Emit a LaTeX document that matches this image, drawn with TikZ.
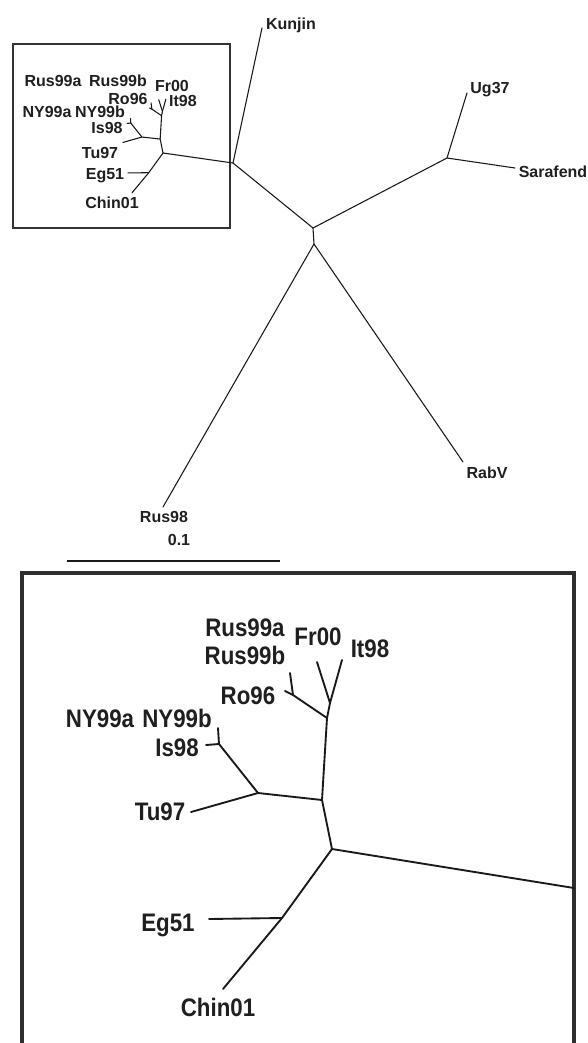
\documentclass[tikz,border=0pt]{standalone}
\usepackage{fontspec}
\setmainfont{Liberation Sans}
\newfontfamily\smfont{Liberation Sans}
\newfontfamily\bgfont[FakeStretch=0.88]{Liberation Sans}
\tikzset{
  smlab/.style={font=\smfont\bfseries\fontsize{12}{14}\selectfont, inner sep=0pt, anchor=base, text=black!88},
  biglab/.style={font=\bgfont\bfseries\fontsize{19}{21}\selectfont, inner sep=0pt, anchor=base, text=black!88},
  thinbr/.style={line width=0.8pt, draw=black!90, line cap=round, line join=round},
  thickbr/.style={line width=1.4pt, draw=black!90, line cap=round, line join=round},
  frametop/.style={line width=2pt, draw=black!80},
  framebot/.style={line width=3pt, draw=black!82},
}
\newcommand\wnvtree[2]{%
  \coordinate (#1M) at (332,849);
  \coordinate (#1A) at (322,800);
  \coordinate (#1B) at (327,718);
  \coordinate (#1C) at (330,703);
  \coordinate (#1D) at (293,695);
  \coordinate (#1E) at (258,793);
  \coordinate (#1F) at (219,744);
  \coordinate (#1G) at (282,918);
  \coordinate (#1fr) at (317,662);
  \coordinate (#1it) at (342,660);
  \coordinate (#1rus) at (290,673);
  \coordinate (#1ro) at (285,691);
  \coordinate (#1ny) at (218,728);
  \coordinate (#1is) at (206,745);
  \coordinate (#1tu) at (191,812);
  \coordinate (#1eg) at (209,919);
  \coordinate (#1ch) at (223,989);
  \draw[#2] (#1M) -- (#1A) -- (#1B) -- (#1C) -- (#1fr);
  \draw[#2] (#1C) -- (#1it);
  \draw[#2] (#1B) -- (#1D) -- (#1rus);
  \draw[#2] (#1D) -- (#1ro);
  \draw[#2] (#1A) -- (#1E) -- (#1F) -- (#1ny);
  \draw[#2] (#1F) -- (#1is);
  \draw[#2] (#1E) -- (#1tu);
  \draw[#2] (#1M) -- (#1G) -- (#1eg);
  \draw[#2] (#1G) -- (#1ch);
}
\begin{document}
\begin{tikzpicture}[x=0.75pt,y=-0.75pt]
\useasboundingbox[fill=white] (0,0) rectangle (588,1043);

% ---------- top overview tree ----------
\draw[frametop] (13,44) rectangle (230,228);
\begin{scope}[shift={(68.38,-88.97)}, scale=0.285]
  \wnvtree{t}{thinbr}
\end{scope}

\coordinate (R) at (233,163);
\coordinate (Kend) at (262,28);
\coordinate (J2) at (313,228);
\coordinate (J3) at (447,158);
\coordinate (Ugend) at (467,93);
\coordinate (Saend) at (515,168);
\coordinate (J4) at (314,244);
\coordinate (R98end) at (163,507);
\coordinate (Rabend) at (463,462);

\draw[thinbr] (tM) -- (R);
\draw[thinbr] (R) -- (Kend);
\draw[thinbr] (R) -- (J2) -- (J3) -- (Ugend);
\draw[thinbr] (J3) -- (Saend);
\draw[thinbr] (J2) -- (J4) -- (R98end);
\draw[thinbr] (J4) -- (Rabend);

\node[smlab] (lKun) at (291,29) {Kunjin};
\node[smlab] (lUg) at (490,93) {Ug37};
\node[smlab] (lSa) at (553,177) {Sarafend};
\node[smlab] (lRab) at (487,478) {RabV};
\node[smlab] (lR98) at (164,522) {Rus98};
\node[smlab] (lsc) at (179,545) {0.1};

\node[smlab] (tlRusa) at (53,86) {Rus99a};
\node[smlab] (tlRusb) at (118,86) {Rus99b};
\node[smlab] (tlFr) at (172,91) {Fr00};
\node[smlab] (tlRo) at (128,104) {Ro96};
\node[smlab] (tlIt) at (183,106) {It98};
\node[smlab] (tlNYa) at (47,117) {NY99a};
\node[smlab] (tlNYb) at (100,117) {NY99b};
\node[smlab] (tlIs) at (107,133) {Is98};
\node[smlab] (tlTu) at (100,158) {Tu97};
\node[smlab] (tlEg) at (105,179) {Eg51};
\node[smlab] (tlCh) at (112,208) {Chin01};

% scale bar
\coordinate (sb1) at (67,561);
\coordinate (sb2) at (280,561);
\draw[thinbr, line cap=butt] (sb1) -- (sb2);

% ---------- magnified tree ----------
\draw[framebot] (22,1046) -- (22,573) -- (574,573) -- (574,1046);
\wnvtree{b}{thickbr}
\coordinate (bedge) at (574,888);
\draw[thickbr] (bM) -- (bedge);

\node[biglab] (bRusa) at (245,636) {Rus99a};
\node[biglab] (bRusb) at (245,664) {Rus99b};
\node[biglab] (bFr) at (318,645) {Fr00};
\node[biglab] (bIt) at (370,657) {It98};
\node[biglab] (bRo) at (248,704) {Ro96};
\node[biglab] (bNYa) at (100,727) {NY99a};
\node[biglab] (bNYb) at (177,727) {NY99b};
\node[biglab] (bIs) at (177,756) {Is98};
\node[biglab] (bTu) at (160,820) {Tu97};
\node[biglab] (bEg) at (168,931) {Eg51};
\node[biglab] (bCh) at (218,1016) {Chin01};
\end{tikzpicture}
\end{document}
